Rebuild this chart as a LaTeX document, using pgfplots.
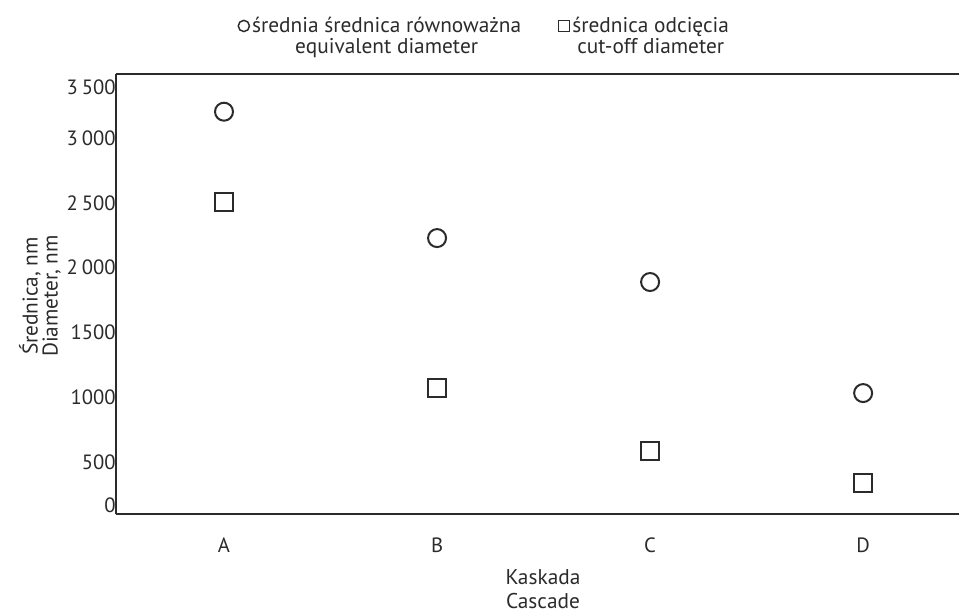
\documentclass[border=0pt]{standalone}
\usepackage{fontspec}
\setmainfont{PT Sans}
\usepackage{pgfplots}
\pgfplotsset{compat=1.18}
\definecolor{ink}{HTML}{2B2B2B}
\begin{document}
\fontsize{16pt}{18pt}\selectfont
\begin{tikzpicture}
\begin{axis}[
  at={(0,0)}, anchor=south west,
  scale only axis, width=632.25pt, height=330pt,
  xmin=-0.507, xmax=3.45, ymin=99, ymax=3494,
  axis x line=box, axis y line=left,
  axis line style={-, line width=1.5pt, ink},
  xtick={0,1,2,3}, xticklabels={A,B,C,D},
  ytick={168,500,1000,1500,2000,2500,3000,3394},
  yticklabels={0,500,1000,1500,2\hspace{0.2em}000,2\hspace{0.2em}500,3\hspace{0.2em}000,3\hspace{0.2em}500},
  major tick length=0pt,
  xticklabel style={font=\fontsize{15.5pt}{17pt}\selectfont, text=ink, anchor=center, yshift=-23.25pt},
  yticklabel style={font=\fontsize{15.5pt}{17pt}\selectfont, text=ink, anchor=east, inner sep=0pt, xshift=0pt},
  xlabel={Kaskada\\Cascade},
  xlabel style={font=\fontsize{16pt}{18pt}\selectfont, align=center, inner sep=0pt, at={(rel axis cs:0.5065,-0.125)}, anchor=north, text=ink},
  ylabel={Średnica, nm\\Diameter, nm},
  ylabel style={font=\fontsize{16pt}{15pt}\selectfont, align=center, inner sep=0pt, at={(rel axis cs:-0.0902,0.4955)}, anchor=center, text=ink},
  legend columns=2,
  legend image code/.code={\draw[#1, mark size=4.2pt, line width=1.1pt] plot coordinates {(0pt,8.5pt)};},
  legend style={draw=none, fill=none, at={(rel axis cs:0.1447,1.135)}, anchor=north west,
    inner sep=0pt, cells={align=center, text=ink}, font=\fontsize{16pt}{15.75pt}\selectfont,
    /tikz/every even column/.append style={column sep=26pt}},
]
\addplot[only marks, mark=o, mark size=6.75pt, line width=1.5pt, ink] coordinates {
  (0,3203) (1,2228) (2,1889) (3,1032)};
\addlegendentry{średnia średnica równoważna\\equivalent diameter}
\addplot[only marks, mark=square, mark size=6.75pt, line width=1.5pt, ink] coordinates {
  (0,2508) (1,1071) (2,585) (3,338)};
\addlegendentry{średnica odcięcia\\cut-off diameter}
\end{axis}
\pgfresetboundingbox
\path[use as bounding box] (-87pt,-76.5pt) rectangle (632.25pt,385.5pt);
\end{tikzpicture}
\end{document}
